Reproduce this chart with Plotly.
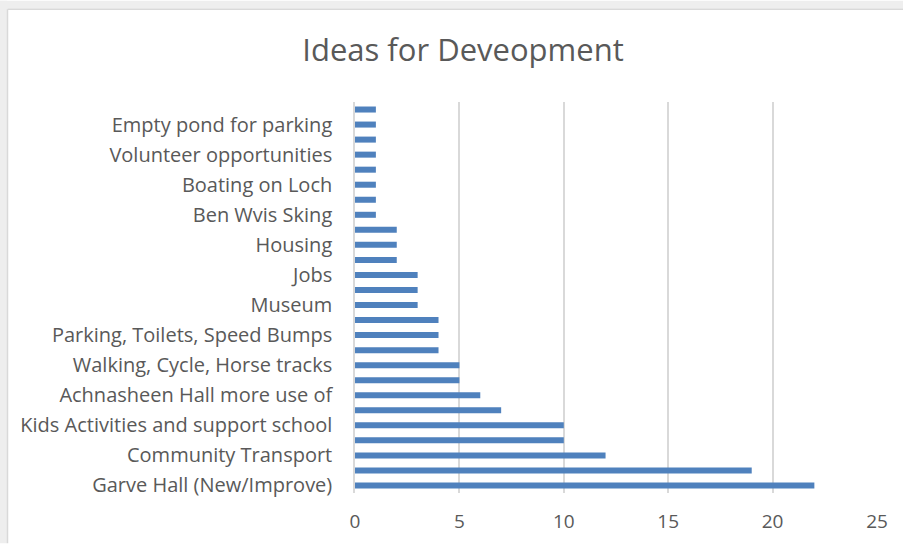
import plotly.graph_objects as go

# Values from bottom (first) to top (last), 26 bars
values = [22, 19, 12, 10, 10, 7, 6, 5, 5, 4, 4, 4, 3, 3, 3, 2, 2, 2, 1, 1, 1, 1, 1, 1, 1, 1]
# Labels shown on every other category (bottom to top)
tick_labels = [
    "Garve Hall (New/Improve)",
    "Community Transport",
    "Kids Activities and support school",
    "Achnasheen Hall more use of",
    "Walking, Cycle, Horse tracks",
    "Parking, Toilets, Speed Bumps",
    "Museum",
    "Jobs",
    "Housing",
    "Ben Wvis Sking",
    "Boating on Loch",
    "Volunteer opportunities",
    "Empty pond for parking",
]
x_ticks = [0, 5, 10, 15, 20, 25]

W, H = 903, 544
L, R, T, B = 355, 877, 101.5, 493.5
positions = list(range(len(values)))
tick_pos = positions[::2][:len(tick_labels)]

FONT = "Open Sans"
GREY = "#595959"

fig = go.Figure(go.Bar(
    x=values, y=positions, orientation="h",
    marker=dict(color="#4f81bd", line=dict(width=0)),
    width=0.4,
))

def px_x(p):
    return (p - L) / (R - L)

def px_y(p):
    return (B - p) / (B - T)

shapes = [
    dict(type="rect", xref="paper", yref="paper", x0=px_x(0), x1=px_x(W), y0=px_y(8), y1=px_y(0),
         fillcolor="#eeeeee", line=dict(width=0), layer="below"),
    dict(type="rect", xref="paper", yref="paper", x0=px_x(0), x1=px_x(7), y0=px_y(H), y1=px_y(0),
         fillcolor="#eeeeee", line=dict(width=0), layer="below"),
    dict(type="line", xref="paper", yref="paper", x0=px_x(7.5), x1=px_x(W), y0=px_y(8.5), y1=px_y(8.5),
         line=dict(color="#d9d9d9", width=1.5)),
    dict(type="line", xref="paper", yref="paper", x0=px_x(7.5), x1=px_x(7.5), y0=px_y(8.5), y1=px_y(H),
         line=dict(color="#d9d9d9", width=1.5)),
]

fig.update_layout(
    width=W, height=H,
    margin=dict(l=L, r=W - R, t=T, b=H - B, autoexpand=False),
    paper_bgcolor="white", plot_bgcolor="white",
    showlegend=False,
    title=dict(text="Ideas for Deveopment", x=463 / W, xanchor="center",
               y=1 - 50 / H, yanchor="middle",
               font=dict(family=FONT, size=31, color=GREY)),
    xaxis=dict(range=[0, 25], tickvals=x_ticks, showgrid=True, gridcolor="#d9d9d9", gridwidth=1.5,
               zeroline=False, showline=False, ticks="", ticklabelstandoff=15, automargin=False,
               tickfont=dict(family=FONT, size=19, color=GREY), fixedrange=True),
    yaxis=dict(range=[-0.5, len(values) - 0.5], tickmode="array", tickvals=tick_pos, ticktext=tick_labels,
               showgrid=False, zeroline=False, showline=True, linecolor="#d9d9d9", linewidth=1.5,
               ticks="", ticklabelstandoff=17, automargin=False,
               tickfont=dict(family=FONT, size=20, color=GREY), fixedrange=True),
    shapes=shapes,
    bargap=0.6,
)

fig.write_html("out.html", config={"displayModeBar": False},
               post_script="document.body.style.margin='0';document.body.style.overflow='hidden';")
